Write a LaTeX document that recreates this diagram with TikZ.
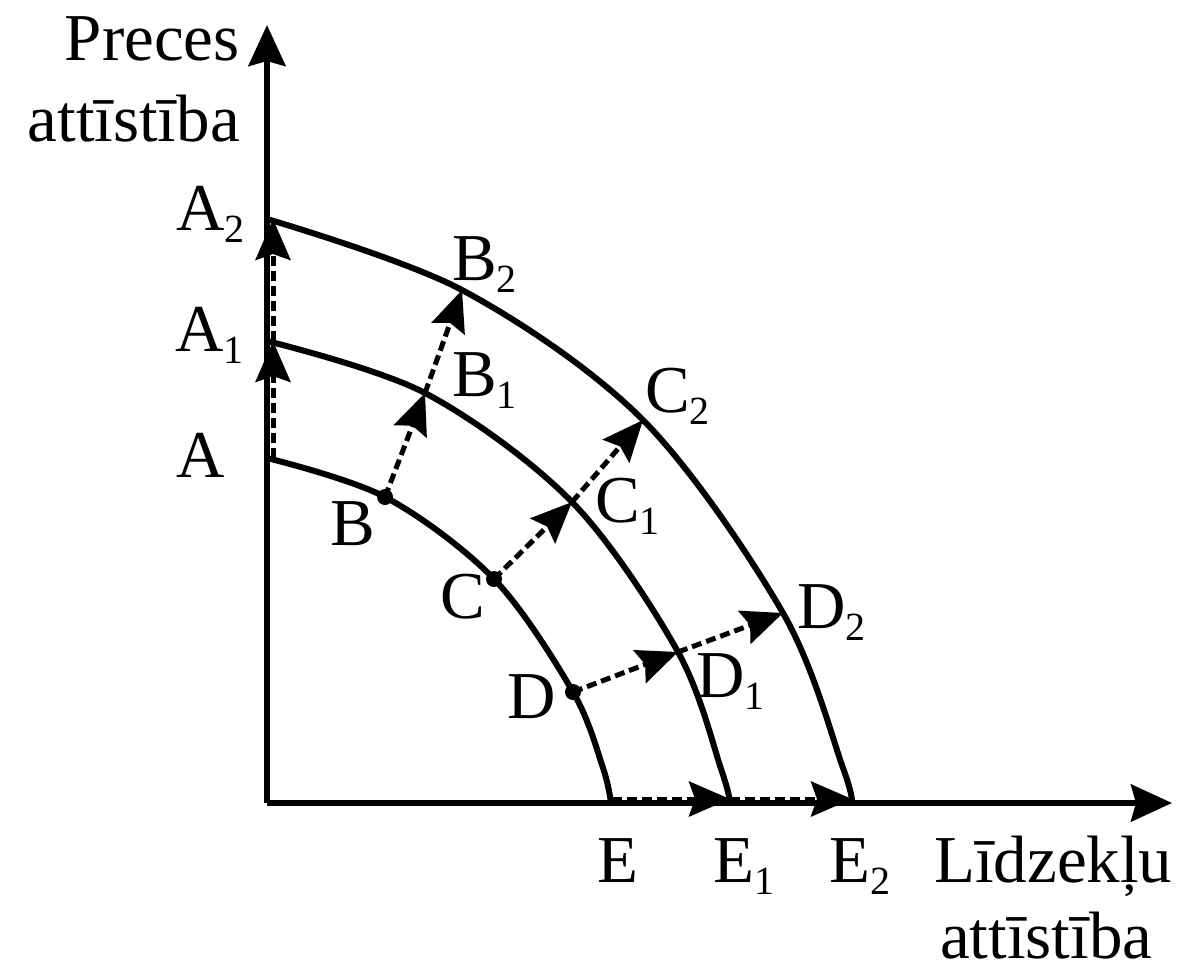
\documentclass[tikz,border=0pt]{standalone}
\usepackage{fontspec}
\setmainfont{Liberation Serif}
\usetikzlibrary{arrows.meta}
\newcommand\subn[1]{\raisebox{-12pt}{\fontsize{40}{42}\selectfont #1}}
\tikzset{
  lbl/.style={font=\fontsize{67}{72}\selectfont, inner sep=0pt, anchor=base west},
  curve/.style={line width=6pt, line join=round, line cap=round},
  axis/.style={line width=6pt, -{Stealth[length=41pt,width=37pt,inset=5pt]}},
  darr/.style={line width=5pt, dash pattern=on 10pt off 5pt, -{Stealth[length=41pt,width=35pt,inset=6pt]}},
  dot/.style={circle, fill, inner sep=0pt, minimum size=16pt}
}
\begin{document}
\begin{tikzpicture}[x=1pt,y=-1pt]
\useasboundingbox (0,0) rectangle (1182,977);
% axes
\coordinate (O) at (267,803);
\coordinate (Ytip) at (267,25);
\coordinate (Xtip) at (1172,803);
\draw[axis] (O) -- (Ytip);
\draw[axis] (O) -- (Xtip);
% curve 1
\coordinate (A) at (267,458);
\coordinate (B) at (385,497);
\coordinate (C) at (494,579);
\coordinate (D) at (573,692);
\coordinate (E) at (611,803);
\draw[curve] plot[smooth,tension=0.55] coordinates {(A) (B) (C) (D) (603,768) (E)};
% curve 2
\coordinate (A1) at (267,341);
\coordinate (B1) at (425,393);
\coordinate (C1) at (572,502);
\coordinate (D1) at (678,652);
\coordinate (E1) at (730,803);
\draw[curve] plot[smooth,tension=0.55] coordinates {(A1) (B1) (C1) (D1) (722,772) (E1)};
% curve 3
\coordinate (A2) at (267,219);
\coordinate (B2) at (462,290);
\coordinate (C2) at (643,420);
\coordinate (D2) at (783,613);
\coordinate (E2) at (852,803);
\draw[curve] plot[smooth,tension=0.55] coordinates {(A2) (B2) (C2) (D2) (843,768) (E2)};
% dots
\node[dot] (dB) at (B) {};
\node[dot] (dC) at (C) {};
\node[dot] (dD) at (D) {};
% dashed arrows along y-axis
\coordinate (Ad) at (273,458);
\coordinate (A1d) at (273,341);
\coordinate (A2d) at (273,219);
\draw[darr] (Ad) -- (A1d);
\draw[darr] (A1d) -- (A2d);
\draw[darr] (B) -- (B1);
\draw[darr] (B1) -- (B2);
\draw[darr] (C) -- (C1);
\draw[darr] (C1) -- (C2);
\draw[darr] (D) -- (D1);
\draw[darr] (D1) -- (D2);
% dashed arrows along x-axis
\coordinate (Ed) at (612,799);
\coordinate (E1d) at (730,799);
\coordinate (E2d) at (852,799);
\draw[darr] (Ed) -- (E1d);
\draw[darr] (E1d) -- (E2d);
% labels
\node[lbl, anchor=base east] (ty1) at (240,60) {Preces};
\node[lbl, anchor=base east] (ty2) at (240,141) {attīstība};
\node[lbl] (lA2) at (176,230) {A\subn{2}};
\node[lbl] (lA1) at (175,351) {A\subn{1}};
\node[lbl] (lA) at (176,477) {A};
\node[lbl] (lB2) at (452,280) {B\subn{2}};
\node[lbl] (lB1) at (452,396) {B\subn{1}};
\node[lbl] (lB) at (330,545) {B};
\node[lbl] (lC2) at (645,412) {C\subn{2}};
\node[lbl] (lC1) at (595,522) {C\subn{1}};
\node[lbl] (lC) at (440,618) {C};
\node[lbl] (lD2) at (797,628) {D\subn{2}};
\node[lbl] (lD1) at (696,697) {D\subn{1}};
\node[lbl] (lD) at (507,718) {D};
\node[lbl] (lE) at (597,882) {E};
\node[lbl] (lE1) at (713,882) {E\subn{1}};
\node[lbl] (lE2) at (829,882) {E\subn{2}};
\node[lbl] (tx1) at (934,882) {Līdzekļu};
\node[lbl] (tx2) at (940,958) {attīstība};
\end{tikzpicture}
\end{document}
